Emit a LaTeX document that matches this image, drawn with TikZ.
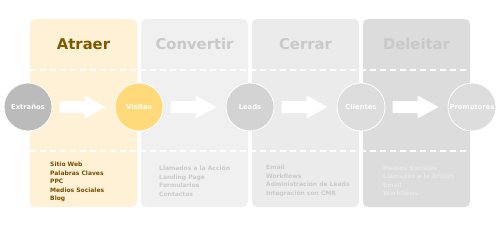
\documentclass[tikz,border=0pt]{standalone}
\usepackage{fontspec}
\setmainfont{DejaVu Sans}
\usepackage{xcolor}
\usepackage{tikz}
\usetikzlibrary{positioning,calc}

\definecolor{atraerbg}{HTML}{FFF1D6}
\definecolor{atraertx}{HTML}{7D5A00}
\definecolor{atraerit}{HTML}{7A4F00}
\definecolor{convbg}{HTML}{F0F0F0}
\definecolor{cerrbg}{HTML}{EBEBEB}
\definecolor{delbg}{HTML}{DCDCDC}
\definecolor{greytx}{HTML}{C9C9C9}
\definecolor{greyit}{HTML}{CACACA}
\definecolor{lightit}{HTML}{E9E9E9}
\definecolor{extfill}{HTML}{BBBBBB}
\definecolor{visfill}{HTML}{FFD97A}
\definecolor{leafill}{HTML}{D3D3D3}
\definecolor{clifill}{HTML}{DDDDDD}

\begin{document}
\begin{tikzpicture}[
  x=1pt, y=-1pt,
  panel/.style={rounded corners=5pt, minimum width=107pt, minimum height=188pt, inner sep=0pt, outer sep=0pt},
  stage/.style={circle, draw=white, line width=0.8pt, minimum size=48pt, inner sep=0pt, outer sep=0pt, text=white, font=\fontsize{6.8}{8}\selectfont\bfseries},
  title/.style={font=\fontsize{14.8}{16}\selectfont\bfseries},
  items/.style={align=left, anchor=west, inner sep=0pt, font=\fontsize{6}{8.5}\selectfont\bfseries},
  dashline/.style={draw=white, line width=1.2pt, dash pattern=on 6pt off 4pt},
  blockarrow/.style={fill=white}
]
\useasboundingbox (0,0) rectangle (500,225);

\node[panel, fill=atraerbg] (patraer) at (83.5,113) {};
\node[panel, fill=convbg, right=4pt of patraer] (pconv) {};
\node[panel, fill=cerrbg, right=4pt of pconv] (pcerr) {};
\node[panel, fill=delbg, right=4pt of pcerr] (pdel) {};

\node[title, text=atraertx] (tatraer) at (patraer.north |- 0,44) {Atraer};
\node[title, text=greytx] (tconv) at (pconv.north |- 0,44) {Convertir};
\node[title, text=greytx] (tcerr) at (pcerr.north |- 0,44) {Cerrar};
\node[title, text=greytx] (tdel) at (pdel.north |- 0,44) {Deleitar};

\draw[dashline] (patraer.west |- 0,70) -- (pdel.east |- 0,70);
\draw[dashline] (patraer.west |- 0,151) -- (pdel.east |- 0,151);

\node[stage, fill=extfill] (ext) at (28,107) {Extraños};
\node[stage, fill=visfill, right=63pt of ext] (vis) {Visitas};
\node[stage, fill=leafill, right=63pt of vis] (lea) {Leads};
\node[stage, fill=clifill, right=63pt of lea] (cli) {Clientes};
\node[stage, fill=clifill, right=63pt of cli] (pro) {Promotores};

\foreach \a/\b in {ext/vis,vis/lea,lea/cli,cli/pro}
  \fill[blockarrow] ($(\a)!0.5!(\b)$) ++(-24,-6) -- ++(25,0) -- ++(0,-5.5) -- ++(21,11.5)
    -- ++(-21,11.5) -- ++(0,-5.5) -- ++(-25,0) -- cycle;

\node[items, text=atraerit] (latraer) at (50,182) {Sitio Web\\Palabras Claves\\PPC\\Medios Sociales\\Blog};
\node[items, text=greyit] (lconv) at (159,181) {Llamados a la Acción\\Landing Page\\Formularios\\Contactos};
\node[items, text=greyit] (lcerr) at (266,181) {Email\\Workflows\\Administración de Leads\\Integración con CMR};
\node[items, text=lightit] (ldel) at (383,181) {Medios Sociales\\Llamados a la Acción\\Email\\Workflows};
\end{tikzpicture}
\end{document}
